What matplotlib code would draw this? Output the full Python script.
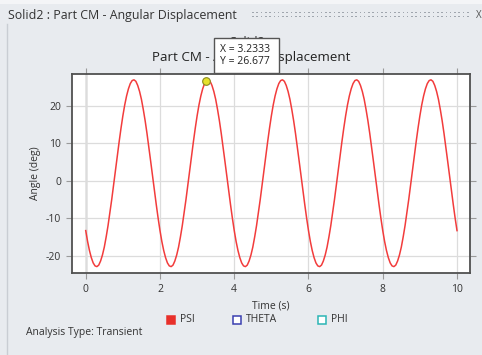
import matplotlib
matplotlib.use("Agg")
import matplotlib.pyplot as plt
from matplotlib.patches import Rectangle
from matplotlib.lines import Line2D

plt.rcParams['font.family'] = ['Open Sans', 'DejaVu Sans']
plt.rcParams['axes.unicode_minus'] = False

# ---- data ----
time_s = [round(i * 0.05, 2) for i in range(201)]
one_period = [-13.3, -16.2, -18.6, -20.5, -21.9, -22.7, -22.9, -22.5, -21.4, -19.8,
              -17.7, -15.0, -12.0, -8.6, -5.0, -1.1, 2.8, 6.7, 10.4, 14.0,
              17.3, 20.2, 22.6, 24.5, 25.9, 26.7, 26.9, 26.5, 25.4, 23.8,
              21.7, 19.0, 16.0, 12.6, 8.9, 5.1, 1.2, -2.7, -6.4, -10.0]
psi_deg = (one_period * 5) + [-13.3]
marker_x = 3.2333
marker_y = 26.677
x_ticks = [0, 2, 4, 6, 8, 10]
y_ticks = [-20, -10, 0, 10, 20]
legend_names = ["PSI", "THETA", "PHI"]
legend_colors = ["#e8302a", "#3a3fb0", "#2bb5b5"]

W, H = 482, 355
BG = "#e8ebef"

fig = plt.figure(figsize=(W / 100, H / 100), dpi=100, facecolor=BG)

def fx(px):
    return px / W

def fy(py):
    return 1 - py / H

# window frame
fig.patches.append(Rectangle((0, fy(4)), 1, 1 - fy(4), transform=fig.transFigure,
                             facecolor="#f4f5f7", edgecolor="none", zorder=0))
fig.lines.append(Line2D([fx(7), fx(7)], [0, fy(24)], transform=fig.transFigure,
                        color="#c9cdd3", lw=1.0))
fig.text(fx(8), fy(15), "Solid2 : Part CM - Angular Displacement", fontsize=8.9,
         color="#333333", va="center", ha="left")
# grip dots
for row in (12.5, 16.5):
    px = 252
    while px < 470:
        fig.patches.append(Rectangle((fx(px), fy(row) - 0.7 / H), 1.6 / W, 1.6 / H,
                                     transform=fig.transFigure, facecolor="#a0a6ae",
                                     edgecolor="none"))
        px += 4.3
fig.text(fx(476), fy(15), "X", fontsize=7, color="#555555", va="center", ha="left")

# plot area
ax = fig.add_axes([fx(72), fy(273), fx(470) - fx(72), fy(74) - fy(273)])
ax.set_facecolor("white")
ax.set_xlim(-0.37, 10.35)
ax.set_ylim(-24.6, 28.45)
ax.set_xticks(x_ticks)
ax.set_yticks(y_ticks)
ax.grid(True, color="#dcdcdc", lw=0.9)
ax.axvline(0, color="#8a8a8a", lw=1.0, zorder=1)
for s in ax.spines.values():
    s.set_color("#505050")
    s.set_linewidth(1.3)
ax.tick_params(axis="both", which="both", direction="out", length=4, width=0.8,
               color="#9a9a9a", labelsize=7.5, labelcolor="#333333",
               top=True, right=True, labeltop=False, labelright=False, pad=4)

ax.plot(time_s, psi_deg, color="#f23c3c", lw=1.1, zorder=3)
ax.plot([marker_x], [marker_y], marker="o", ms=5.5, mfc="#e6e12a", mec="#8a8a20",
        mew=0.8, zorder=5, clip_on=False)

ax.set_xlabel("Time (s)", fontsize=7.5, color="#333333", labelpad=4)
ax.set_ylabel("Angle (deg)", fontsize=7.5, color="#333333", labelpad=3)

# titles (subtitle is mostly hidden behind the tooltip, as in the original)
fig.text(fx(247), fy(43), "Solid2", fontsize=9, color="#333333", ha="center", va="center")
fig.text(fx(152), fy(57), "Part CM - Angular Displacement", fontsize=9.6,
         color="#222222", ha="left", va="center")

# tooltip
fig.patches.append(Rectangle((fx(214), fy(73)), fx(279) - fx(214), fy(38) - fy(73),
                             transform=fig.transFigure, facecolor="white",
                             edgecolor="#555555", lw=1.0, zorder=10))
fig.text(fx(220), fy(50), "X = %.4f" % marker_x, fontsize=7.5, color="#222222",
         ha="left", va="center", zorder=11)
fig.text(fx(220), fy(62), "Y = %.3f" % marker_y, fontsize=7.5, color="#222222",
         ha="left", va="center", zorder=11)

# legend
leg_x = [171, 237, 322]
for name, col, px in zip(legend_names, legend_colors, leg_x):
    filled = name == "PSI"
    fig.patches.append(Rectangle((fx(px - 4), fy(324)), 8 / W, 8 / H,
                                 transform=fig.transFigure,
                                 facecolor=col if filled else "white",
                                 edgecolor=col, lw=1.1))
    fig.text(fx(px + 9), fy(320), name, fontsize=7.5, color="#333333",
             ha="left", va="center")

fig.text(fx(26), fy(332), "Analysis Type: Transient", fontsize=7.5, color="#333333",
         ha="left", va="center")

fig.savefig("out.png", dpi=100, facecolor=BG)
